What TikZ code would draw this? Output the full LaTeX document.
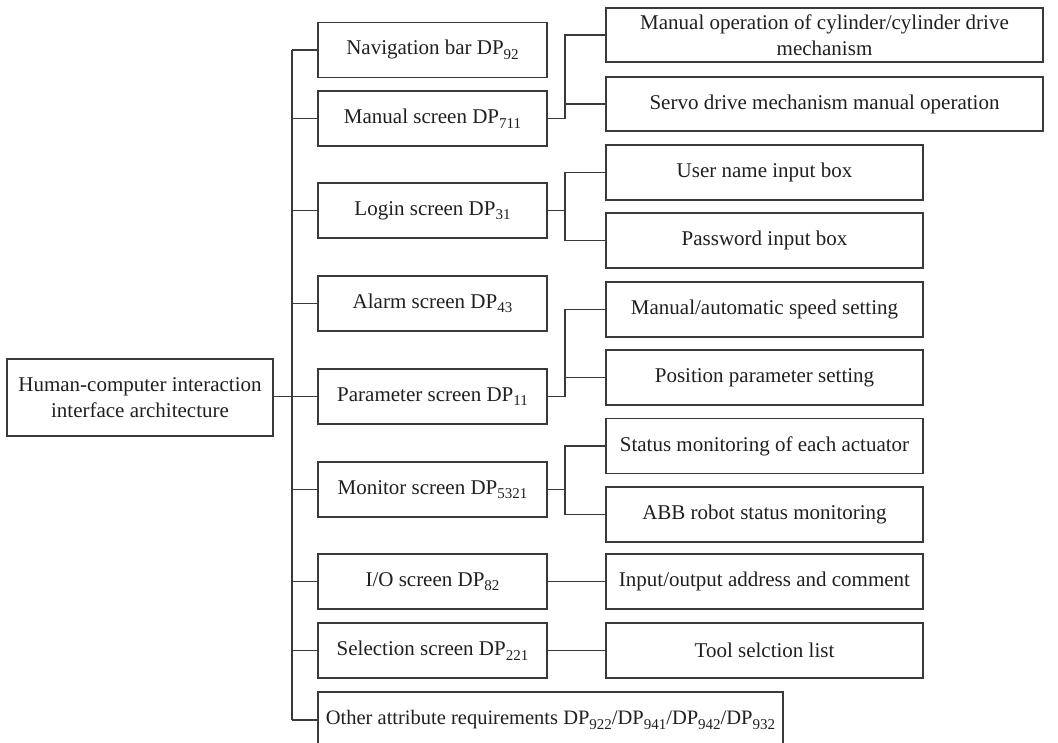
\documentclass[tikz,border=0pt]{standalone}
\usepackage{fontspec}
\setmainfont{Liberation Serif}
\usepackage{tikz}
\usetikzlibrary{positioning,calc}
\definecolor{Ink}{HTML}{231F20}
\definecolor{Rule}{HTML}{3A3A3A}
\tikzset{
  every node/.append style={text=Ink},
  box/.style={draw=Rule, line width=1.2pt, fill=white, align=center,
              minimum width=229pt, minimum height=55pt, inner sep=0pt,
              font=\fontsize{21}{26}\selectfont},
  rootbox/.style={box, minimum width=266pt, minimum height=77pt},
  leaf/.style={box, minimum width=317pt},
  wideleaf/.style={box, minimum width=437pt, minimum height=54pt},
  link/.style={draw=Rule, line width=1.2pt},
}
\newcommand{\DP}[1]{DP\raisebox{-4.5pt}{\fontsize{15}{15}\selectfont #1}}
\begin{document}
\begin{tikzpicture}[x=1pt,y=-1pt]
  \useasboundingbox (0,0) rectangle (1058,743);
  \coordinate (trunk) at (292,0);
  \coordinate (fork) at (565,0);
  % root and first level
  \node[rootbox] (root) at (140,397.5) {Human-computer interaction\\interface architecture};
  \node[box] (nav) at (432.5,50) {Navigation bar \DP{92}};
  \node[box] (manual) at (432.5,118.5) {Manual screen \DP{711}};
  \node[box] (login) at (432.5,210.5) {Login screen \DP{31}};
  \node[box] (alarm) at (432.5,303.5) {Alarm screen \DP{43}};
  \node[box] (param) at (432.5,396.5) {Parameter screen \DP{11}};
  \node[box] (monitor) at (432.5,489.5) {Monitor screen \DP{5321}};
  \node[box] (io) at (432.5,581.5) {I/O screen \DP{82}};
  \node[box] (select) at (432.5,650.5) {Selection screen \DP{221}};
  \node[box, minimum width=465pt, minimum height=56pt, font=\fontsize{20.5}{25}\selectfont] (other) at (550.5,720)
    {Other attribute requirements \DP{922}/\DP{941}/\DP{942}/\DP{932}};
  % second level
  \node[wideleaf] (cyl) at (824.5,35) {Manual operation of cylinder/cylinder drive\\mechanism};
  \node[wideleaf] (servo) at (824.5,104) {Servo drive mechanism manual operation};
  \node[leaf] (uname) at (764.5,172.5) {User name input box};
  \node[leaf] (pwd) at (764.5,240.5) {Password input box};
  \node[leaf] (speed) at (764.5,309.5) {Manual/automatic speed setting};
  \node[leaf] (pos) at (764.5,377.5) {Position parameter setting};
  \node[leaf] (actu) at (764.5,446) {Status monitoring of each actuator};
  \node[leaf] (abb) at (764.5,514.5) {ABB robot status monitoring};
  \node[leaf] (iocom) at (764.5,581.5) {Input/output address and comment};
  \node[leaf] (tool) at (764.5,650.5) {Tool selction list};
  % connectors
  \draw[link] (param.west -| root.east) -- (param.west -| trunk);
  \draw[link] (nav.west -| trunk) -- (other.west -| trunk);
  \foreach \n in {nav,manual,login,alarm,param,monitor,io,select,other}
    \draw[link] (\n.west) -- (\n.west -| trunk);
  \foreach \p/\a/\b in {manual/cyl/servo, login/uname/pwd, param/speed/pos, monitor/actu/abb} {
    \draw[link] (\a.west) -| (fork |- \p.east) -- (\p.east);
    \draw[link] (\b.west) -| (fork |- \p.east);
  }
  \draw[link] (io.east) -- (iocom.west);
  \draw[link] (select.east) -- (tool.west);
\end{tikzpicture}
\end{document}
